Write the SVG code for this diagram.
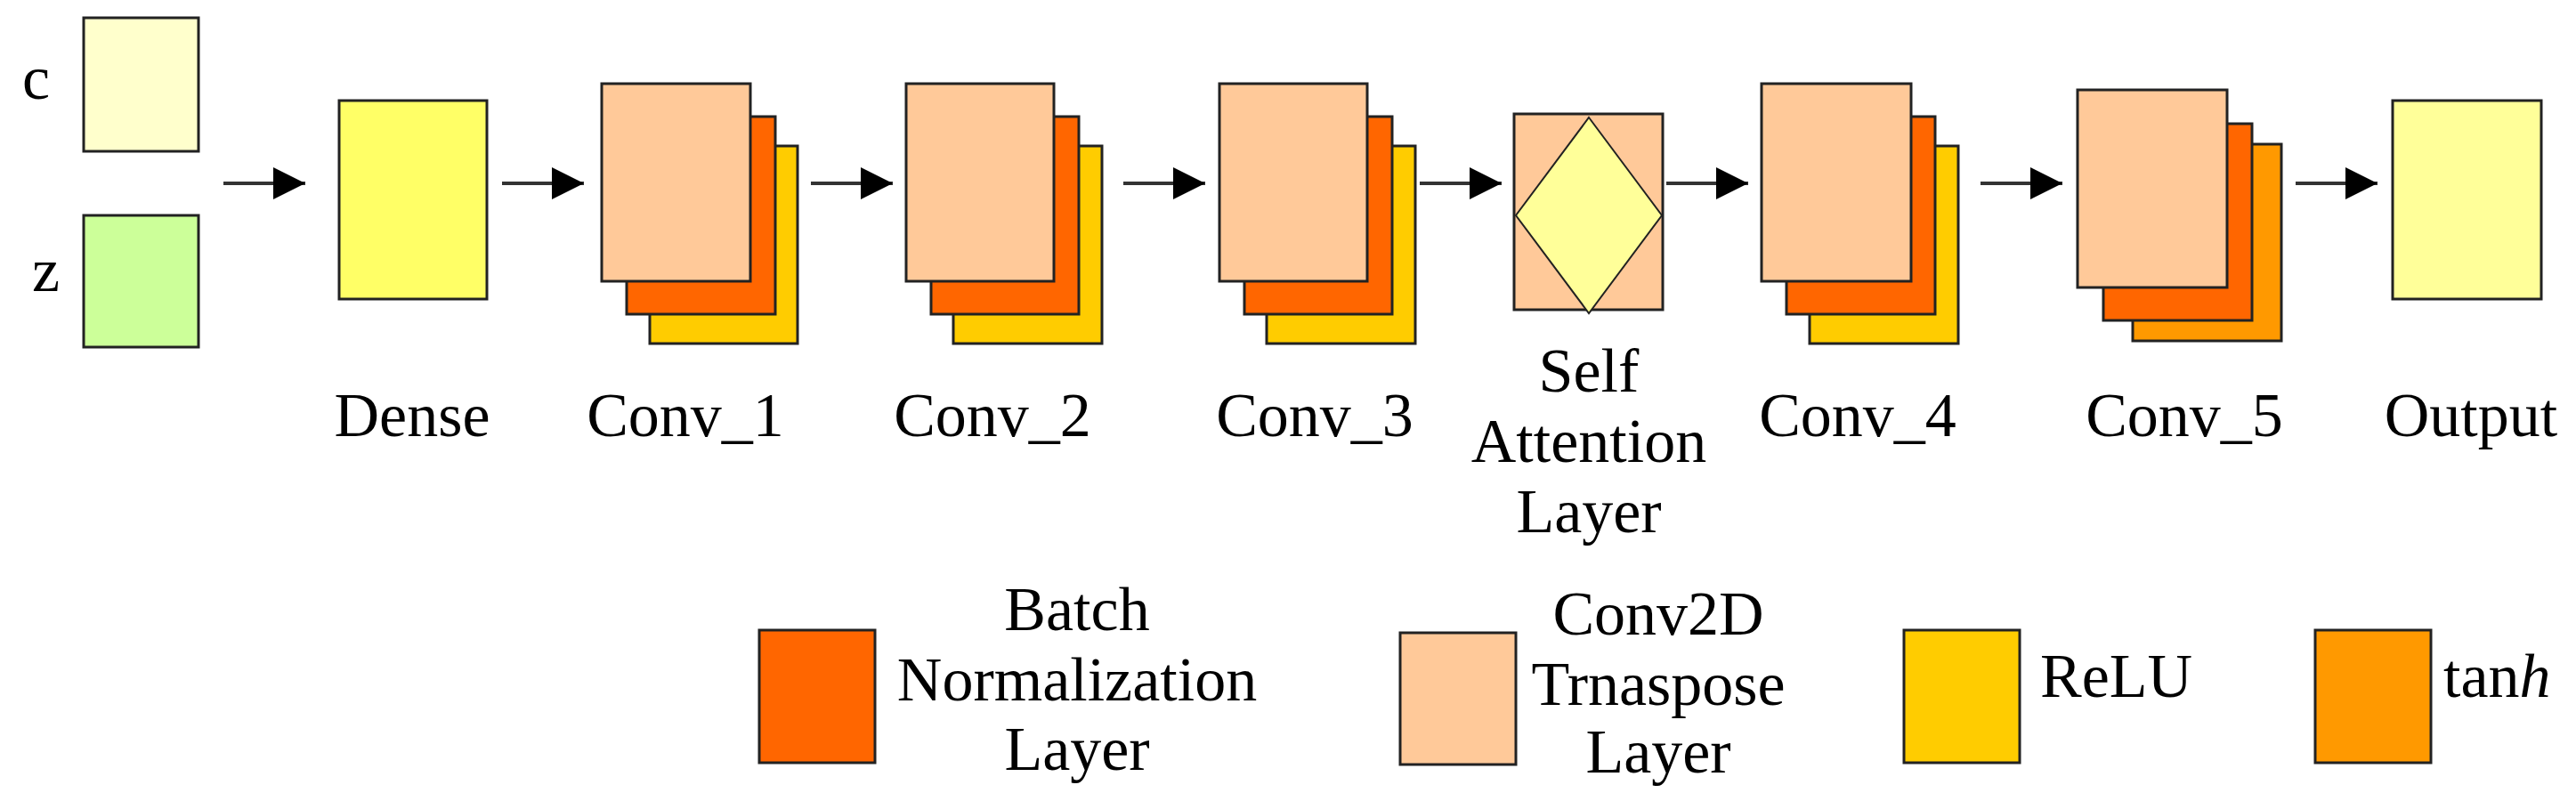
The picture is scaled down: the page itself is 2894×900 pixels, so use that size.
<svg xmlns="http://www.w3.org/2000/svg" width="2894" height="900" viewBox="0 0 2894 900">
<style>
rect{stroke:#222;stroke-width:3}
text{font-family:"Liberation Serif","DejaVu Serif",serif;font-size:70px;fill:#000}
.m{text-anchor:middle}
.cv{fill:#FFC999}.bn{fill:#FF6600}.re{fill:#FFCC00}.th{fill:#FF9900}
.ar{stroke:#333;stroke-width:4}
</style>
<defs>
<marker id="ah" markerUnits="userSpaceOnUse" markerWidth="40" markerHeight="40" refX="36" refY="18" orient="auto"><path d="M0,0L36,18L0,36Z" fill="#000"/></marker>
</defs>
<g id="c"><rect x="94" y="20" width="129" height="150" fill="#FFFFCC"/><text x="25" y="111">c</text></g>
<g id="z"><rect x="94" y="242" width="129" height="148" fill="#CCFF99"/><text x="36" y="327">z</text></g>
<g id="dense"><rect x="381" y="113" width="166" height="223" fill="#FFFF66"/><text class="m" x="463" y="490">Dense</text></g>
<g id="conv1"><rect class="re" x="730" y="164" width="166" height="222"/><rect class="bn" x="704" y="131" width="167" height="222"/><rect class="cv" x="676" y="94" width="167" height="222"/><text class="m" x="770" y="490">Conv_1</text></g>
<g id="conv2"><rect class="re" x="1071" y="164" width="167" height="222"/><rect class="bn" x="1046" y="131" width="166" height="222"/><rect class="cv" x="1018" y="94" width="166" height="222"/><text class="m" x="1115" y="490">Conv_2</text></g>
<g id="conv3"><rect class="re" x="1423" y="164" width="167" height="222"/><rect class="bn" x="1398" y="131" width="166" height="222"/><rect class="cv" x="1370" y="94" width="166" height="222"/><text class="m" x="1477" y="490">Conv_3</text></g>
<g id="sa"><rect class="cv" x="1701" y="128" width="167" height="220"/><path d="M1785,132L1867,242L1785,352L1703,242Z" fill="#FFFF99" stroke="#222" stroke-width="2"/><text class="m" x="1785" y="440">Self</text><text class="m" x="1785" y="519">Attention</text><text class="m" x="1785" y="598">Layer</text></g>
<g id="conv4"><rect class="re" x="2033" y="164" width="167" height="222"/><rect class="bn" x="2007" y="131" width="167" height="222"/><rect class="cv" x="1979" y="94" width="168" height="222"/><text class="m" x="2087" y="490">Conv_4</text></g>
<g id="conv5"><rect class="th" x="2396" y="162" width="167" height="221"/><rect class="bn" x="2363" y="139" width="167" height="221"/><rect class="cv" x="2334" y="101" width="168" height="222"/><text class="m" x="2454" y="490">Conv_5</text></g>
<g id="output"><rect x="2688" y="113" width="167" height="223" fill="#FFFF99"/><text class="m" x="2776" y="490">Output</text></g>
<g id="connectors">
<line class="ar" x1="251" y1="206" x2="343" y2="206" marker-end="url(#ah)"/>
<line class="ar" x1="564" y1="206" x2="656" y2="206" marker-end="url(#ah)"/>
<line class="ar" x1="911" y1="206" x2="1003" y2="206" marker-end="url(#ah)"/>
<line class="ar" x1="1262" y1="206" x2="1354" y2="206" marker-end="url(#ah)"/>
<line class="ar" x1="1595" y1="206" x2="1687" y2="206" marker-end="url(#ah)"/>
<line class="ar" x1="1872" y1="206" x2="1964" y2="206" marker-end="url(#ah)"/>
<line class="ar" x1="2225" y1="206" x2="2317" y2="206" marker-end="url(#ah)"/>
<line class="ar" x1="2579" y1="206" x2="2671" y2="206" marker-end="url(#ah)"/>
</g>
<g id="legend">
<rect class="bn" x="853" y="708" width="130" height="149"/>
<text class="m" x="1210" y="708">Batch</text><text class="m" x="1210" y="787">Normalization</text><text class="m" x="1210" y="865">Layer</text>
<rect class="cv" x="1573" y="711" width="130" height="148"/>
<text class="m" x="1863" y="713">Conv2D</text><text class="m" x="1863" y="792">Trnaspose</text><text class="m" x="1863" y="868">Layer</text>
<rect class="re" x="2139" y="708" width="130" height="149"/>
<text x="2292" y="783">ReLU</text>
<rect class="th" x="2601" y="708" width="130" height="149"/>
<text x="2745" y="783">tan<tspan font-style="italic">h</tspan></text>
</g>
</svg>
